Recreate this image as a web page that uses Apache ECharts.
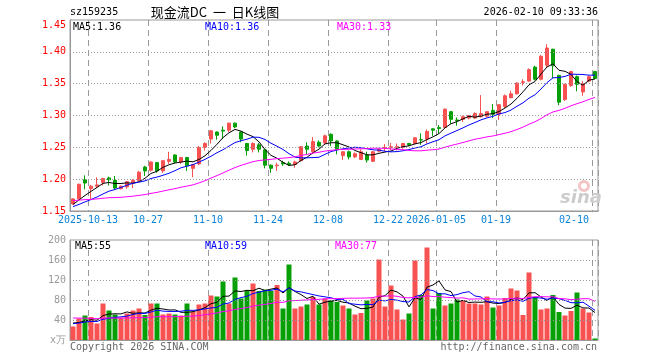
<!DOCTYPE html>
<html><head><meta charset="utf-8">
<script src="https://cdn.jsdelivr.net/npm/echarts@6/dist/echarts.min.js"></script>
<style>html,body{margin:0;padding:0;background:#fff}#c{width:660px;height:360px}</style>
</head><body><div id="c"></div>
<script>
// ---- data ----
const dates = ['2025-09-30','2025-10-09','2025-10-10','2025-10-13','2025-10-14','2025-10-15','2025-10-16','2025-10-17','2025-10-20','2025-10-21','2025-10-22','2025-10-23','2025-10-24','2025-10-27','2025-10-28','2025-10-29','2025-10-30','2025-10-31','2025-11-03','2025-11-04','2025-11-05','2025-11-06','2025-11-07','2025-11-10','2025-11-11','2025-11-12','2025-11-13','2025-11-14','2025-11-17','2025-11-18','2025-11-19','2025-11-20','2025-11-21','2025-11-24','2025-11-25','2025-11-26','2025-11-27','2025-11-28','2025-12-01','2025-12-02','2025-12-03','2025-12-04','2025-12-05','2025-12-08','2025-12-09','2025-12-10','2025-12-11','2025-12-12','2025-12-15','2025-12-16','2025-12-17','2025-12-18','2025-12-19','2025-12-22','2025-12-23','2025-12-24','2025-12-25','2025-12-26','2025-12-29','2025-12-30','2025-12-31','2026-01-05','2026-01-06','2026-01-07','2026-01-08','2026-01-09','2026-01-12','2026-01-13','2026-01-14','2026-01-15','2026-01-16','2026-01-19','2026-01-20','2026-01-21','2026-01-22','2026-01-23','2026-01-26','2026-01-27','2026-01-28','2026-01-29','2026-01-30','2026-02-02','2026-02-03','2026-02-04','2026-02-05','2026-02-06','2026-02-09','2026-02-10'];
const opens = [1.161,1.169,1.199,1.185,1.189,1.195,1.202,1.198,1.185,1.188,1.194,1.198,1.219,1.214,1.226,1.213,1.228,1.238,1.227,1.234,1.217,1.224,1.250,1.263,1.274,1.277,1.277,1.288,1.274,1.256,1.247,1.254,1.246,1.222,1.221,1.226,1.225,1.223,1.229,1.252,1.243,1.258,1.257,1.2705,1.260,1.237,1.243,1.235,1.231,1.238,1.228,1.244,1.249,1.250,1.250,1.250,1.256,1.256,1.262,1.263,1.279,1.281,1.281,1.306,1.293,1.294,1.296,1.296,1.298,1.299,1.308,1.302,1.314,1.328,1.334,1.352,1.354,1.376,1.357,1.379,1.404,1.363,1.325,1.347,1.361,1.337,1.354,1.369];
const closes = [1.169,1.192,1.194,1.189,1.191,1.201,1.199,1.186,1.189,1.196,1.198,1.211,1.213,1.227,1.213,1.229,1.231,1.227,1.234,1.221,1.223,1.250,1.256,1.276,1.269,1.2755,1.288,1.282,1.263,1.245,1.256,1.247,1.222,1.217,1.222,1.224,1.223,1.227,1.251,1.247,1.259,1.252,1.268,1.260,1.247,1.243,1.235,1.240,1.243,1.230,1.243,1.247,1.250,1.251,1.251,1.256,1.254,1.265,1.2615,1.275,1.277,1.2795,1.310,1.294,1.292,1.298,1.300,1.303,1.303,1.306,1.302,1.317,1.331,1.334,1.351,1.353,1.372,1.357,1.393,1.406,1.378,1.321,1.349,1.369,1.349,1.350,1.361,1.358];
const lows = [1.160,1.168,1.184,1.169,1.186,1.190,1.190,1.184,1.184,1.185,1.186,1.197,1.205,1.212,1.210,1.210,1.224,1.225,1.224,1.213,1.203,1.222,1.245,1.256,1.262,1.263,1.274,1.280,1.258,1.237,1.242,1.242,1.217,1.210,1.213,1.221,1.221,1.218,1.228,1.239,1.240,1.250,1.255,1.252,1.239,1.230,1.231,1.233,1.230,1.226,1.227,1.242,1.244,1.246,1.245,1.248,1.252,1.255,1.254,1.256,1.268,1.272,1.280,1.287,1.284,1.290,1.294,1.295,1.297,1.297,1.296,1.293,1.312,1.327,1.333,1.347,1.353,1.355,1.355,1.376,1.359,1.316,1.323,1.345,1.338,1.331,1.352,1.357];
const highs = [1.170,1.193,1.206,1.191,1.203,1.202,1.204,1.205,1.190,1.197,1.200,1.213,1.221,1.228,1.227,1.230,1.243,1.239,1.235,1.235,1.224,1.252,1.258,1.277,1.275,1.283,1.289,1.289,1.275,1.257,1.258,1.257,1.247,1.223,1.226,1.229,1.228,1.229,1.252,1.258,1.266,1.261,1.270,1.272,1.261,1.244,1.245,1.242,1.247,1.243,1.244,1.249,1.255,1.257,1.256,1.257,1.257,1.266,1.272,1.278,1.280,1.285,1.311,1.307,1.297,1.300,1.301,1.305,1.332,1.307,1.318,1.318,1.333,1.339,1.352,1.357,1.374,1.378,1.395,1.412,1.405,1.364,1.350,1.370,1.363,1.354,1.363,1.370];
const volumes = [27,43,49,46,33,73,59,51,45,53,59,63,50,73,73,51,53,51,49,73,57,71,73,89,87,117,73,125,83,99,113,98,101,98,110,63,151,63,67,71,86,71,83,79,76,69,63,51,54,79,83,161,67,109,61,41,53,159,90,185,63,94,69,73,81,79,73,73,71,87,65,69,84,103,99,50,135,86,61,63,90,56,49,58,95,63,55,3];
// sessions before the visible window (only feed the moving averages)
const histCloses = [1.168,1.172,1.175,1.171,1.169,1.174,1.178,1.176,1.172,1.170,1.173,1.175,1.171,1.167,1.168,1.170,1.172,1.169,1.166,1.164,1.158,1.154,1.152,1.151,1.153,1.156,1.159,1.157,1.160];
const histVolumes = [48,55,62,45,40,52,58,47,44,50,53,49,46,42,51,56,48,45,50,53,30,28,35,33,30,38,32,36,37];
const tickDates = ['2025-10-13','2025-10-27','2025-11-10','2025-11-24','2025-12-08','2025-12-22','2026-01-05','2026-01-19','2026-02-10'];
const tickLabels = ['2025-10-13','10-27','11-10','11-24','12-08','12-22','2026-01-05','01-19','02-10'];
const priceGridValues = [1.20, 1.25, 1.30, 1.35, 1.40];
const volumeGridValues = [40, 80, 120, 160];

// ---- helpers ----
function movingAvg(n, vals, hist) {
  const all = hist.concat(vals), off = hist.length;
  return vals.map((_, i) => { let s = 0; for (let k = 0; k < n; k++) s += all[off + i - k]; return s / n; });
}
const RED = '#f85151', GREEN = '#06a006', FRAME = '#999', GRID = '#999';
const MONO = '"DejaVu Sans Mono", monospace';
const ma5 = movingAvg(5, closes, histCloses), ma10 = movingAvg(10, closes, histCloses), ma30 = movingAvg(30, closes, histCloses);
const vma5 = movingAvg(5, volumes, histVolumes), vma10 = movingAvg(10, volumes, histVolumes), vma30 = movingAvg(30, volumes, histVolumes);
const last = a => a[a.length - 1];
const isTick = (i) => tickDates.indexOf(dates[i]) >= 0;

function xAxis(gi, showLabel) {
  return {
    type: 'category', gridIndex: gi, data: dates,
    axisLine: { lineStyle: { color: FRAME } },
    axisTick: { show: false },
    axisLabel: showLabel ? {
      interval: isTick, formatter: v => tickLabels[tickDates.indexOf(v)],
      color: '#0b84d8', fontFamily: 'DejaVu Sans Mono', fontSize: 10, margin: 4,
      padding: [0, 6, 0, 0], alignMaxLabel: 'right'
    } : { show: false },
    splitLine: { show: true, interval: isTick, lineStyle: { color: GRID, type: [6, 4] } }
  };
}
// horizontal dotted grid lines placed through the value axis scale
function gridMarks(values) {
  return { silent: true, symbol: ['none', 'none'], animation: false,
    label: { show: false }, emphasis: { disabled: true },
    lineStyle: { color: GRID, width: 1, type: [1, 2] },
    data: values.map(v => ({ yAxis: v })) };
}
function txt(x, y, text, color, align, font) {
  return { type: 'text', x: x, y: y, silent: true, z: 100,
    style: { text: text, fill: color, font: font || ('10px ' + MONO), textAlign: align || 'left', textVerticalAlign: 'middle' } };
}

const chart = echarts.init(document.getElementById('c'));
chart.setOption({
  animation: false,
  backgroundColor: '#fff',
  grid: [
    { left: 70, top: 20, width: 528, height: 191, show: true, borderColor: FRAME, borderWidth: 1 },
    { left: 70, top: 240, width: 528, height: 100, show: true, borderColor: FRAME, borderWidth: 1 }
  ],
  xAxis: [xAxis(0, true), xAxis(1, false)],
  yAxis: [
    { type: 'value', gridIndex: 0, min: 1.15, max: 1.45, interval: 0.05,
      axisLine: { show: true, lineStyle: { color: FRAME } }, axisTick: { show: false },
      axisLabel: { color: '#f00', fontFamily: 'DejaVu Sans Mono', fontSize: 10, margin: 4,
        formatter: v => Math.abs(v - 1.45) < 1e-6 ? '{t|' + v.toFixed(2) + '}' : v.toFixed(2),
        rich: { t: { color: '#f00', fontFamily: 'DejaVu Sans Mono', fontSize: 10, padding: [10, 0, 0, 0] } } },
      splitLine: { show: false } },
    { type: 'value', gridIndex: 1, min: 0, max: 200, interval: 40,
      axisLine: { show: true, lineStyle: { color: FRAME } }, axisTick: { show: false },
      axisLabel: { color: '#999', fontFamily: 'DejaVu Sans Mono', fontSize: 10, margin: 4,
        formatter: v => v === 0 ? 'x万' : String(v) },
      splitLine: { show: false } }
  ],
  series: [
    { type: 'candlestick', xAxisIndex: 0, yAxisIndex: 0, barWidth: 4,
      data: dates.map((d, i) => [opens[i], closes[i], lows[i], highs[i]]),
      itemStyle: { color: RED, color0: GREEN, borderColor: RED, borderColor0: GREEN, borderWidth: 1 },
      markLine: gridMarks(priceGridValues) },
    { type: 'line', xAxisIndex: 0, yAxisIndex: 0, data: ma5, symbol: 'none', lineStyle: { color: '#000', width: 1 } },
    { type: 'line', xAxisIndex: 0, yAxisIndex: 0, data: ma10, symbol: 'none', lineStyle: { color: '#0000ff', width: 1 } },
    { type: 'line', xAxisIndex: 0, yAxisIndex: 0, data: ma30, symbol: 'none', lineStyle: { color: '#ff00ff', width: 1 } },
    { type: 'bar', xAxisIndex: 1, yAxisIndex: 1, barWidth: 5,
      data: volumes.map((v, i) => ({ value: v, itemStyle: { color: closes[i] >= opens[i] ? RED : GREEN } })),
      markLine: gridMarks(volumeGridValues) },
    { type: 'line', xAxisIndex: 1, yAxisIndex: 1, data: vma5, symbol: 'none', lineStyle: { color: '#000', width: 1 } },
    { type: 'line', xAxisIndex: 1, yAxisIndex: 1, data: vma10, symbol: 'none', lineStyle: { color: '#0000ff', width: 1 } },
    { type: 'line', xAxisIndex: 1, yAxisIndex: 1, data: vma30, symbol: 'none', lineStyle: { color: '#ff00ff', width: 1 } }
  ],
  graphic: [
    txt(70, 12, 'sz159235', '#000'),
    txt(215, 12, '现金流DC  一  日K线图', '#000', 'center', '13px "Noto Sans CJK SC"'),
    txt(598, 12, '2026-02-10 09:33:36', '#000', 'right'),
    txt(73, 27, 'MA5:' + last(ma5).toFixed(2), '#000'),
    txt(205, 27, 'MA10:' + last(ma10).toFixed(2), '#0000ff'),
    txt(337, 27, 'MA30:' + last(ma30).toFixed(2), '#ff00ff'),
    txt(75, 246, 'MA5:' + Math.round(last(vma5)), '#000'),
    txt(205, 246, 'MA10:' + Math.round(last(vma10)), '#0000ff'),
    txt(335, 246, 'MA30:' + Math.round(last(vma30)), '#ff00ff'),
    txt(70, 347, 'Copyright 2026 SINA.COM', '#666'),
    txt(597, 347, 'http://finance.sina.com.cn', '#666', 'right'),
    { type: 'ring', silent: true, z: 1, shape: { cx: 584, cy: 186, r: 6, r0: 3 }, style: { fill: '#f2c4c4' } },
    { type: 'text', x: 581, y: 198, silent: true, z: 1,
      style: { text: 'sina', fill: '#cccccc', font: 'italic bold 18px "DejaVu Sans"', textAlign: 'center', textVerticalAlign: 'middle' } }
  ]
});
</script></body></html>
